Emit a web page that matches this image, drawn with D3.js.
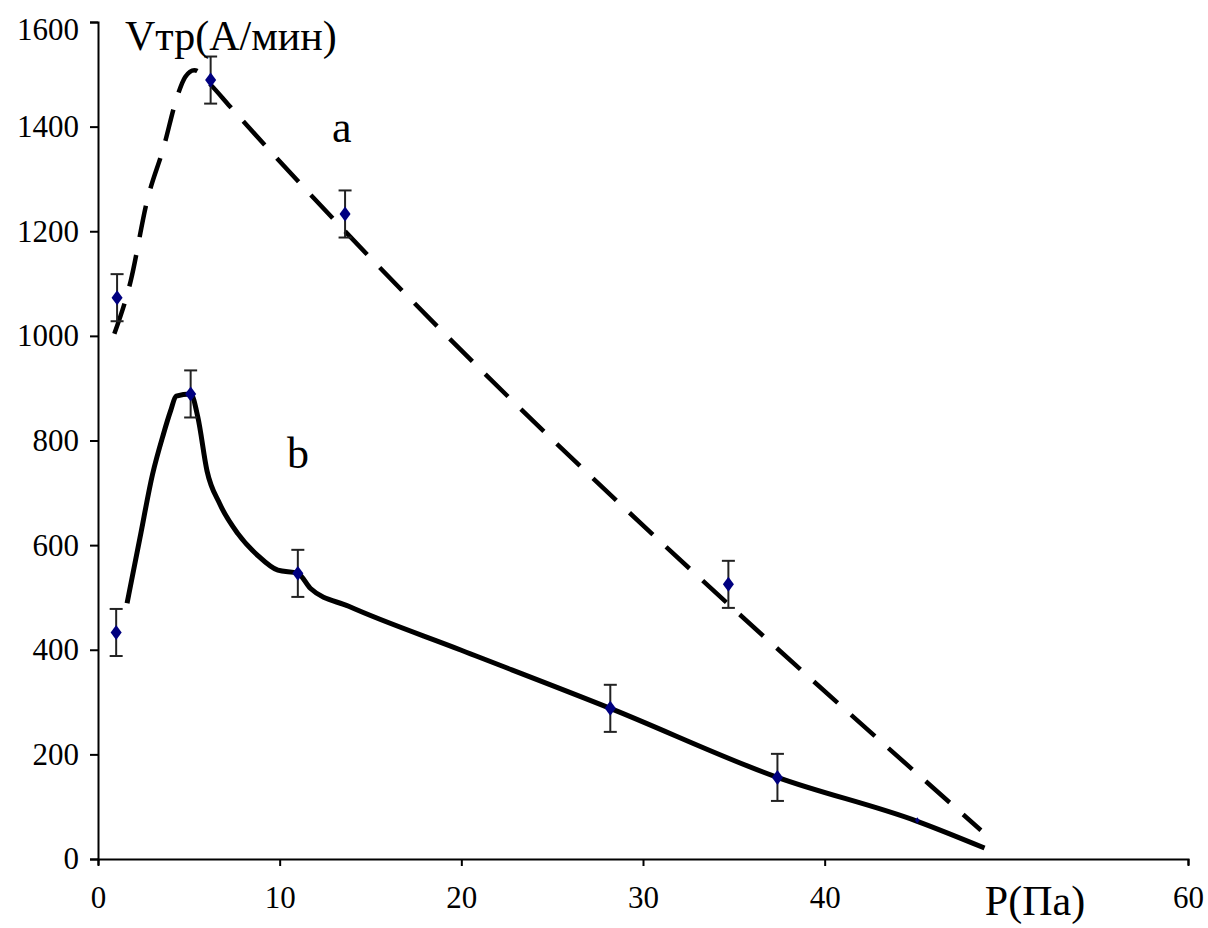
<!DOCTYPE html>
<html>
<head>
<meta charset="utf-8">
<script src="https://cdn.jsdelivr.net/npm/d3@7"></script>
</head>
<body style="margin:0">
<svg id="chart" width="1208" height="928"></svg>
<script>
// Etch rate Vтр (Å/min) versus pressure P (Pa)

const FONT = "'Liberation Serif'";

// axis ticks
const xTicks = [0, 10, 20, 30, 40, 60];
const yTicks = [0, 200, 400, 600, 800, 1000, 1200, 1400, 1600];

// curve a (dashed): fitted trend
const curveAx = [0.9, 1.8, 2.7, 3.6, 4.4, 4.8, 5.3, 6.2, 7.2, 48.6];
const curveAy = [1004, 1105, 1258, 1359, 1462, 1495, 1508, 1480, 1441, 55];

// curve a: measured points and errors
const pointsAx = [1.05, 6.2, 13.6, 34.7];
const pointsAy = [1073, 1489, 1233, 525];
const errA = [45, 45, 45, 45];

// curve b (solid): fitted trend
const curveBx = [1.6, 2.3, 3.0, 3.6, 4.0, 4.3, 5.1, 5.5, 6.0, 6.7, 7.7, 8.8, 9.9, 11.0, 11.7, 13.8, 20, 28.2, 37.4, 45.1, 48.8];
const curveBy = [489, 612, 735, 812, 857, 885, 889, 844, 742, 679, 622, 580, 552, 546, 517, 483, 399, 288, 156, 72, 21];

// curve b: measured points and errors
const pointsBx = [1.0, 5.1, 11.0, 28.2, 37.4, 45.1];
const pointsBy = [433, 889, 546, 288, 156, 74];
const errB = [45, 45, 45, 45, 45, 0];

const svg = d3.select("#chart");

const x = d3.scaleLinear().domain([0, 60]).range([98, 1188]);
const y = d3.scaleLinear().domain([0, 1600]).range([859, 22]);

// axes
const yAxis = d3.axisLeft(y).tickValues(yTicks).tickFormat(d3.format("d"))
  .tickSize(8).tickSizeOuter(8).tickPadding(11);
const gy = svg.append("g").attr("transform", `translate(${x(0)},0)`).call(yAxis);
gy.selectAll("text")
  .style("font-family", FONT).style("font-size", "31px").attr("fill", "#000");
gy.selectAll("text").filter(d => d === 1600).attr("dy", "0.55em");

const xAxis = d3.axisBottom(x).tickValues(xTicks).tickFormat(d3.format("d"))
  .tickSize(7).tickSizeOuter(6).tickPadding(20);
const gx = svg.append("g").attr("transform", `translate(0,${y(0)})`).call(xAxis);
gx.selectAll("text")
  .style("font-family", FONT).style("font-size", "31px").attr("fill", "#000");

svg.selectAll(".domain, .tick line").attr("stroke", "#000").attr("stroke-width", 2);

// trend lines
const line = d3.line().x(d => x(d[0])).y(d => y(d[1])).curve(d3.curveMonotoneX);

svg.append("path")
  .datum(d3.zip(curveAx, curveAy))
  .attr("d", line)
  .attr("fill", "none")
  .attr("stroke", "#000")
  .attr("stroke-width", 4.5)
  .attr("stroke-dasharray", "32,18");

svg.append("path")
  .datum(d3.zip(curveBx, curveBy))
  .attr("d", line)
  .attr("fill", "none")
  .attr("stroke", "#000")
  .attr("stroke-width", 5)
  .attr("stroke-linejoin", "round");

// error bars and markers
function drawPoints(xs, ys, errs, cls) {
  const pts = d3.zip(xs, ys, errs);
  const g = svg.append("g").attr("class", cls);
  const eb = g.selectAll("g.err").data(pts.filter(p => p[2] > 0)).join("g").attr("class", "err")
    .attr("stroke", "#222").attr("stroke-width", 2);
  eb.append("line")
    .attr("x1", d => x(d[0])).attr("x2", d => x(d[0]))
    .attr("y1", d => y(d[1] + d[2])).attr("y2", d => y(d[1] - d[2]));
  eb.append("line")
    .attr("x1", d => x(d[0]) - 6.5).attr("x2", d => x(d[0]) + 6.5)
    .attr("y1", d => y(d[1] + d[2])).attr("y2", d => y(d[1] + d[2]));
  eb.append("line")
    .attr("x1", d => x(d[0]) - 6.5).attr("x2", d => x(d[0]) + 6.5)
    .attr("y1", d => y(d[1] - d[2])).attr("y2", d => y(d[1] - d[2]));
  g.selectAll("path.mark").data(pts).join("path").attr("class", "mark")
    .attr("d", d => d3.symbol().type(d3.symbolDiamond).size(d[2] > 0 ? 80 : 14)())
    .attr("transform", d => `translate(${x(d[0])},${y(d[1])}) scale(1.15,0.9)`)
    .attr("fill", "#000080");
}
drawPoints(pointsAx, pointsAy, errA, "series-a");
drawPoints(pointsBx, pointsBy, errB, "series-b");

// labels
function label(tx, ty, size, str, anchor) {
  svg.append("text").attr("x", tx).attr("y", ty)
    .attr("text-anchor", anchor || "start")
    .style("font-family", FONT).style("font-size", size + "px")
    .attr("fill", "#000").text(str);
}
label(125, 50, 42, "Vтр(А/мин)");
label(1035, 915, 42, "P(Па)", "middle");
label(332, 142, 44, "a");
label(287, 468, 44, "b");
</script>
</body>
</html>
